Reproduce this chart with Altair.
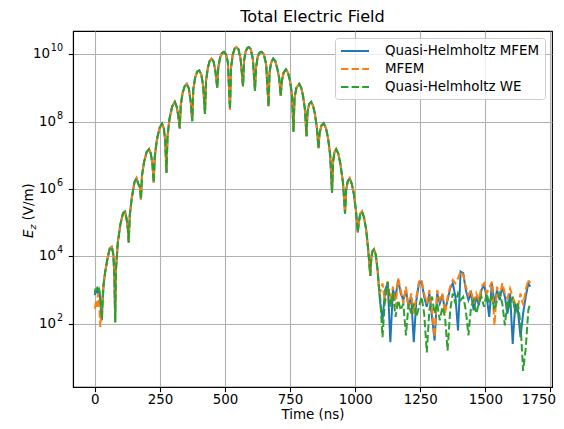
import altair as alt
import pandas as pd

names = ["Quasi-Helmholtz MFEM", "MFEM", "Quasi-Helmholtz WE"]
colors = ["#1f77b4", "#ff7f0e", "#2ca02c"]

# ---- early-time segments (ns, log10 of |Ez|) ----
blue_start_t = [0, 3, 6, 10, 13, 16, 20, 24, 27, 30, 34]
blue_start_log10 = [2.85, 3.0, 2.9, 3.05, 2.95, 3.0, 2.8, 2.3, 2.1, 2.7, 3.2]
orange_start_t = [0, 4, 8, 12, 15, 18, 21, 24, 28, 32, 36]
orange_start_log10 = [2.45, 2.65, 2.5, 2.9, 2.7, 2.4, 1.9, 2.3, 2.6, 3.1, 3.35]
green_start_t = [0, 3, 6, 10, 13, 16, 20, 24, 27, 30, 34]
green_start_log10 = [2.9, 3.05, 2.95, 3.1, 2.95, 3.05, 2.85, 2.4, 2.15, 2.75, 3.2]

# ---- common pulse (all three solvers agree) ----
main_t = [40, 50, 58, 65, 71, 75, 78,
          81, 88, 98, 108, 116, 122, 127, 130,
          134, 142, 152, 160, 167, 173, 177,
          181, 189, 199, 208, 215, 221, 226,
          230, 238, 248, 258, 265, 270, 275,
          279, 287, 297, 307, 314, 320, 326,
          330, 337, 345, 353, 361, 368, 374,
          378, 385, 393, 401, 409, 416, 423,
          427, 434, 441, 448, 456, 463, 470,
          474, 481, 488, 496, 504, 511, 519,
          523, 530, 537, 544, 552, 560, 569,
          573, 579, 586, 592, 599, 607, 615,
          619, 626, 633, 641, 649, 658, 667,
          671, 677, 685, 693, 700, 708, 714,
          718, 725, 734, 742, 750, 757, 763,
          767, 774, 785, 793, 800, 807, 813,
          817, 823, 831, 839, 846, 853, 859,
          863, 870, 879, 888, 896, 904, 911,
          915, 920, 927, 935, 943, 953, 961,
          965, 971, 979, 987, 995, 1003, 1010,
          1014, 1019, 1026, 1034, 1042, 1050, 1058,
          1062, 1066, 1072, 1079, 1086, 1091]
main_log10 = [3.55, 4.0, 4.25, 4.28, 4.05, 3.4, 2.04,
              3.6, 4.4, 4.95, 5.28, 5.33, 5.1, 4.8, 4.41,
              5.2, 5.75, 6.2, 6.32, 6.15, 6.05, 5.69,
              6.4, 6.8, 7.1, 7.18, 7.05, 6.75, 6.19,
              6.95, 7.45, 7.8, 7.94, 7.8, 7.45, 6.48,
              7.55, 8.1, 8.45, 8.59, 8.45, 8.2, 7.80,
              8.5, 8.85, 9.05, 9.12, 8.98, 8.6, 8.01,
              8.95, 9.3, 9.48, 9.52, 9.4, 9.05, 8.23,
              9.2, 9.6, 9.8, 9.87, 9.78, 9.5, 9.0,
              9.6, 9.9, 10.03, 10.07, 10.0, 9.75, 8.36,
              9.6, 10.0, 10.17, 10.21, 10.14, 9.85, 9.05,
              9.8, 10.08, 10.19, 10.21, 10.15, 9.85, 8.92,
              9.6, 9.95, 10.05, 10.07, 10.0, 9.7, 8.46,
              9.45, 9.75, 9.87, 9.8, 9.6, 9.3, 8.76,
              9.2, 9.45, 9.55, 9.45, 9.2, 8.8, 7.70,
              8.7, 9.0, 9.12, 9.0, 8.75, 8.35, 7.57,
              8.3, 8.52, 8.59, 8.45, 8.2, 7.8, 7.21,
              7.65, 7.88, 7.95, 7.8, 7.5, 7.0, 5.89,
              6.8, 7.08, 7.18, 7.05, 6.75, 6.2, 5.27,
              5.95, 6.22, 6.32, 6.15, 5.85, 5.35, 4.71,
              5.0, 5.25, 5.33, 5.15, 4.8, 4.2, 3.42,
              3.95, 4.15, 4.21, 4.05, 3.6, 3.1]

# ---- late-time numerical noise ----
noise_t = [1095, 1105, 1115, 1125, 1135, 1145, 1155, 1165, 1175, 1185,
           1195, 1205, 1215, 1225, 1235, 1245, 1255, 1265, 1275, 1285,
           1295, 1305, 1315, 1325, 1335, 1345, 1355, 1365, 1375, 1385,
           1395, 1405, 1415, 1425, 1435, 1445, 1455, 1465, 1475, 1485,
           1495, 1505, 1515, 1525, 1535, 1545, 1555, 1565, 1575, 1585,
           1595, 1605, 1615, 1625, 1635, 1645, 1655, 1665, 1672]
blue_noise_log10 = [2.7, 2.1, 3.0, 3.2, 1.45, 3.0, 2.8, 3.3, 2.9, 2.7,
                    3.0, 2.5, 2.8, 1.45, 2.7, 3.2, 3.25, 2.8, 2.5, 2.9,
                    2.2, 1.5, 2.9, 2.6, 2.85, 2.4, 2.7, 3.05, 3.2, 2.8,
                    1.8, 3.55, 3.5, 3.0, 2.7, 2.9, 2.4, 2.8, 2.55, 3.0,
                    3.15, 2.8, 2.2, 3.2, 2.6, 3.0, 2.7, 3.1, 2.8, 2.3,
                    2.9, 1.4, 2.6, 2.4, 1.6, 2.3, 2.8, 3.2, 3.1]
orange_noise_log10 = [2.9, 3.2, 2.6, 3.25, 2.7, 3.1, 2.5, 3.35, 3.0, 2.6,
                      3.1, 2.45, 2.9, 2.3, 2.8, 3.25, 3.3, 2.9, 2.6, 3.0,
                      2.4, 1.6, 3.0, 2.7, 2.9, 2.3, 2.8, 3.1, 3.3, 3.2,
                      3.35, 3.55, 3.45, 3.1, 2.85, 3.0, 2.6, 2.9, 2.7, 3.1,
                      3.2, 2.9, 3.05, 3.25, 1.95, 3.1, 2.8, 3.2, 2.9, 2.75,
                      3.05, 2.8, 2.6, 2.5, 2.9, 2.55, 3.0, 3.3, 3.2]
green_noise_log10 = [2.9, 1.6, 2.8, 3.25, 2.5, 2.9, 2.2, 2.7, 2.4, 2.6,
                     1.65, 2.6, 2.3, 2.6, 2.2, 2.5, 2.8, 2.3, 1.15, 2.4,
                     2.8, 2.3, 2.6, 2.1, 2.5, 2.2, 1.2, 2.4, 2.9, 2.6,
                     2.9, 2.7, 2.8, 2.4, 1.65, 2.5, 2.7, 2.3, 2.6, 2.8,
                     2.5, 2.9, 2.6, 2.8, 2.4, 2.7, 2.9, 2.6, 1.95, 2.7,
                     2.5, 2.8, 2.3, 2.6, 2.0, 0.6, 1.25, 2.4, 2.6]

x_ticks = [0, 250, 500, 750, 1000, 1250, 1500, 1750]
y_ticks = [1e2, 1e4, 1e6, 1e8, 1e10]
y_tick_exponents = ["2", "4", "6", "8", "10"]

starts = [(blue_start_t, blue_start_log10), (orange_start_t, orange_start_log10),
          (green_start_t, green_start_log10)]
noises = [blue_noise_log10, orange_noise_log10, green_noise_log10]

rows = []
for i, name in enumerate(names):
    st, sv = starts[i]
    ts = list(st) + main_t + noise_t
    vs = list(sv) + main_log10 + noises[i]
    for t, v in zip(ts, vs):
        rows.append({"t": t, "ez": 10 ** v, "series": name})
df = pd.DataFrame(rows)

ticks_df = pd.DataFrame({"ez": y_ticks, "exp": y_tick_exponents,
                         "two": [len(e) == 2 for e in y_tick_exponents]})

FONT = "DejaVu Sans"

color = alt.Color("series:N", scale=alt.Scale(domain=names, range=colors),
                  legend=alt.Legend(title=None, orient="top-right", offset=7,
                                    symbolType="M-1,0H3", symbolSize=196,
                                    symbolStrokeWidth=2, labelFontSize=13.4,
                                    labelFont=FONT, labelColor="black",
                                    fillColor="rgba(255,255,255,0.8)",
                                    strokeColor="#cccccc", cornerRadius=3,
                                    padding=5, rowPadding=3, labelOffset=29,
                                    labelLimit=300))
dash = alt.StrokeDash("series:N",
                      scale=alt.Scale(domain=names, range=[[1, 0], [7.4, 3.2], [7.4, 3.2]]),
                      legend=alt.Legend(title=None))

x = alt.X("t:Q", scale=alt.Scale(domain=[-84, 1756], nice=False, zero=False),
          axis=alt.Axis(values=x_ticks, format="d", title="Time (ns)",
                        labelPadding=1, titlePadding=1,
                        labelFlush=10, labelFlushOffset=5))
yscale = alt.Scale(type="log", domain=[1.32, 4.9e10], nice=False)
y = alt.Y("ez:Q", scale=yscale,
          axis=alt.Axis(values=y_ticks, title=None, labels=False))

base = alt.Chart(df).encode(x=x, y=y, color=color, strokeDash=dash, order=alt.Order("t:Q"))
layers = []
for name in names:
    layers.append(base.mark_line(strokeWidth=2, clip=True)
                  .transform_filter(alt.datum.series == name))

# y tick labels as 10 with superscript exponent
tick_base = alt.Chart(ticks_df).encode(y=y)
ten_two = tick_base.mark_text(text="10", align="right", baseline="middle", font=FONT,
                              fontSize=13.4, color="black").encode(
    x=alt.value(-23)).transform_filter("datum.two")
ten_one = tick_base.mark_text(text="10", align="right", baseline="middle", font=FONT,
                              fontSize=13.4, color="black").encode(
    x=alt.value(-17)).transform_filter("!datum.two")
exps = tick_base.mark_text(align="right", baseline="middle", font=FONT, fontSize=9.6,
                           dy=-6, color="black").encode(
    x=alt.value(-10), text="exp:N")

one = pd.DataFrame({"a": [0]})
lbl_E = alt.Chart(one).mark_text(text="E", angle=270, align="left", baseline="middle",
                                 fontStyle="italic", font=FONT, fontSize=13.4,
                                 color="black").encode(x=alt.value(-44), y=alt.value(207))
lbl_z = alt.Chart(one).mark_text(text="z", angle=270, align="left", baseline="middle",
                                 fontStyle="italic", font=FONT, fontSize=9.5,
                                 color="black").encode(x=alt.value(-40), y=alt.value(198.5))
lbl_u = alt.Chart(one).mark_text(text="(V/m)", angle=270, align="left", baseline="middle",
                                 font=FONT, fontSize=13.4,
                                 color="black").encode(x=alt.value(-44), y=alt.value(189.5))

chart = alt.layer(*layers, ten_two, ten_one, exps, lbl_E, lbl_z, lbl_u).properties(
    width=479, height=356,
    title=alt.Title("Total Electric Field", font=FONT, fontSize=16.1,
                    fontWeight="normal", color="black", offset=6),
    autosize=alt.AutoSizeParams(type="none"),
    padding={"left": 65, "top": 23, "right": 4, "bottom": 34},
).configure_view(stroke="black", strokeWidth=1.1).configure_axis(
    labelFont=FONT, labelFontSize=13.4, labelColor="black",
    titleFont=FONT, titleFontSize=13.4, titleFontWeight="normal", titleColor="black",
    tickColor="black", tickSize=4.7, tickWidth=1.1,
    domainColor="black", domainWidth=1.1,
    gridColor="#b0b0b0", gridWidth=1.1, grid=True,
)

chart.save("out.html", embed_options={"renderer": "svg", "actions": False})
